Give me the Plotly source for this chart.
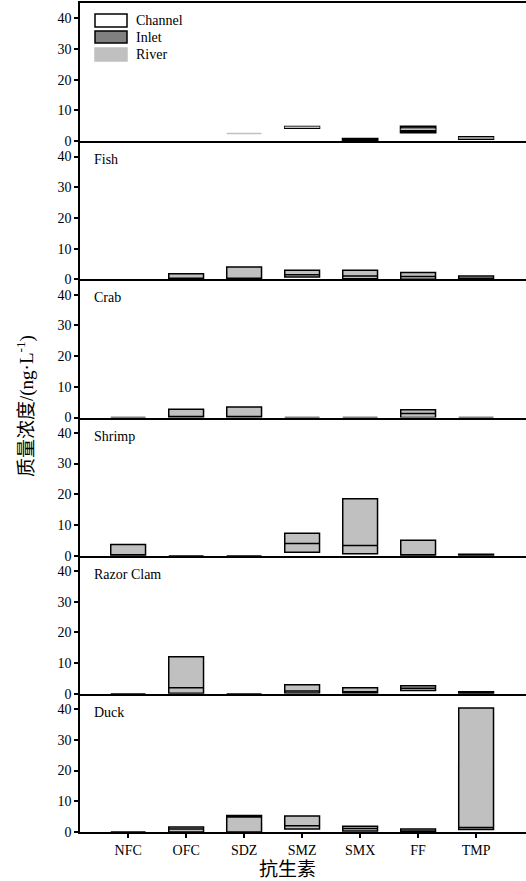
import plotly.graph_objects as go
from plotly.subplots import make_subplots

antibiotics = ["NFC", "OFC", "SDZ", "SMZ", "SMX", "FF", "TMP"]
panel_names = ["", "Fish", "Crab", "Shrimp", "Razor Clam", "Duck"]
y_ticks = [0, 10, 20, 30, 40]
legend_names = ["Channel", "Inlet", "River"]

# --- top panel (water sites): q1, median, q3 ---
channel_q1 = [None, None, None, 4.2, None, None, 0.6]
channel_med = [None, None, None, 4.5, None, None, 1.0]
channel_q3 = [None, None, None, 4.8, None, None, 1.4]

inlet_q1 = [None, None, None, None, 0.4, 2.8, None]
inlet_med = [None, None, None, None, 0.6, 3.4, None]
inlet_q3 = [None, None, None, None, 0.8, 4.8, None]

river_q1 = [None, None, 2.5, 4.5, None, 3.9, 1.0]
river_med = [None, None, 2.5, 4.5, None, 3.9, 1.0]
river_q3 = [None, None, 2.5, 4.5, None, 3.9, 1.0]

# --- organism panels: q1, median, q3 ---
fish_q1 = [None, 0.0, 0.0, 0.8, 0.2, 0.0, 0.0]
fish_med = [None, 0.0, 0.0, 1.5, 1.1, 0.9, 0.0]
fish_q3 = [None, 1.8, 4.0, 3.0, 3.0, 2.2, 1.1]

crab_q1 = [0.0, 0.0, 0.0, 0.0, 0.0, 0.0, 0.0]
crab_med = [0.0, 0.0, 0.0, 0.0, 0.0, 1.3, 0.0]
crab_q3 = [0.0, 2.7, 3.4, 0.0, 0.0, 2.5, 0.0]

shrimp_q1 = [0.0, 0.0, 0.0, 1.1, 0.65, 0.0, 0.1]
shrimp_med = [0.0, 0.0, 0.0, 4.0, 3.3, 0.0, 0.3]
shrimp_q3 = [3.6, 0.0, 0.0, 7.3, 18.5, 5.0, 0.5]

razor_q1 = [0.0, 0.2, 0.0, 0.3, 0.3, 1.1, 0.1]
razor_med = [0.0, 2.0, 0.0, 0.9, 0.65, 1.8, 0.4]
razor_q3 = [0.0, 12.1, 0.0, 3.0, 2.0, 2.6, 0.65]

duck_q1 = [0.0, 0.0, 0.0, 1.0, 0.3, 0.0, 0.8]
duck_med = [0.0, 1.0, 4.9, 2.0, 1.1, 0.0, 1.5]
duck_q3 = [0.0, 1.6, 5.4, 5.2, 1.85, 1.0, 40.4]

organism_data = [
    (fish_q1, fish_med, fish_q3),
    (crab_q1, crab_med, crab_q3),
    (shrimp_q1, shrimp_med, shrimp_q3),
    (razor_q1, razor_med, razor_q3),
    (duck_q1, duck_med, duck_q3),
]

SERIF = "Liberation Serif, Times New Roman, serif"
SERIF_CJK = "Liberation Serif, Noto Sans CJK SC, serif"
LIGHT = "#c0c0c0"
DARK = "#808080"

fig = make_subplots(rows=6, cols=1, shared_xaxes=True, vertical_spacing=0)


def add_boxes(q1, med, q3, row, fill, line_color, line_width):
    xs, a, m, b = [], [], [], []
    for cat, v1, vm, v3 in zip(antibiotics, q1, med, q3):
        if v1 is None:
            continue
        xs.append(cat)
        a.append(v1)
        m.append(vm)
        b.append(v3)
    fig.add_trace(
        go.Box(
            x=xs, q1=a, median=m, q3=b, lowerfence=a, upperfence=b,
            orientation="v", width=0.6, whiskerwidth=0,
            fillcolor=fill, line=dict(color=line_color, width=line_width),
            boxpoints=False, showlegend=False, hoverinfo="skip",
        ),
        row=row, col=1,
    )


add_boxes(channel_q1, channel_med, channel_q3, 1, "white", "black", 1.5)
add_boxes(inlet_q1, inlet_med, inlet_q3, 1, "#404040", "black", 2)
add_boxes(river_q1, river_med, river_q3, 1, LIGHT, LIGHT, 1.5)

for i, (q1, med, q3) in enumerate(organism_data):
    add_boxes(q1, med, q3, i + 2, LIGHT, "black", 1.5)

for r in range(1, 7):
    fig.update_yaxes(
        range=[0, 45], tickvals=y_ticks, ticks="outside", ticklen=4, tickwidth=1.5,
        tickcolor="black", showline=True, linecolor="black", linewidth=1.5,
        showgrid=False, zeroline=False,
        tickfont=dict(family=SERIF, size=14, color="black"),
        row=r, col=1,
    )
    fig.update_xaxes(
        type="category", categoryorder="array", categoryarray=antibiotics,
        range=[-0.83, 6.86], showline=True, linecolor="black", linewidth=2,
        showgrid=False, zeroline=False, mirror=(r == 1),
        ticks="outside" if r == 6 else "", ticklen=4, tickwidth=1.5, tickcolor="black",
        showticklabels=(r == 6),
        tickfont=dict(family=SERIF, size=14, color="black"),
        row=r, col=1,
    )

# panel labels
for i, name in enumerate(panel_names):
    if not name:
        continue
    r = i + 1
    xr = "x domain" if r == 1 else f"x{r} domain"
    yr = "y domain" if r == 1 else f"y{r} domain"
    fig.add_annotation(
        text=name, xref=xr, yref=yr, x=0.027, y=0.865,
        xanchor="left", yanchor="middle", showarrow=False,
        font=dict(family=SERIF, size=14, color="black"),
    )

# legend in the top panel
leg_fill = ["white", DARK, LIGHT]
leg_line = ["black", "black", LIGHT]
leg_y = [(14, 27), (31, 43), (48, 61)]
panel_top, panel_h, plot_left, plot_w = 3, 829 / 6, 80, 446
for name, fc, lc, (y0, y1) in zip(legend_names, leg_fill, leg_line, leg_y):
    fig.add_shape(
        type="rect", xref="x domain", yref="y domain",
        x0=(95 - plot_left) / plot_w, x1=(127 - plot_left) / plot_w,
        y0=1 - (y1 - panel_top) / panel_h, y1=1 - (y0 - panel_top) / panel_h,
        fillcolor=fc, line=dict(color=lc, width=1.5),
    )
    fig.add_annotation(
        text=name, xref="x domain", yref="y domain",
        x=(134 - plot_left) / plot_w, y=1 - ((y0 + y1) / 2 - panel_top) / panel_h,
        xanchor="left", yanchor="middle", showarrow=False,
        font=dict(family=SERIF, size=14, color="black"),
    )

# axis titles
fig.add_annotation(
    text="质量浓度/(ng·L<sup>-1</sup>)", xref="paper", yref="paper",
    x=(25 - 80) / 446, y=(832 - 406) / 829, textangle=-90,
    xanchor="center", yanchor="middle", showarrow=False,
    font=dict(family=SERIF_CJK, size=19, color="black"),
)
fig.add_annotation(
    text="抗生素", xref="paper", yref="paper",
    x=(287 - 80) / 446, y=(832 - 869) / 829,
    xanchor="center", yanchor="middle", showarrow=False,
    font=dict(family=SERIF_CJK, size=19, color="black"),
)

fig.update_layout(
    width=526, height=881,
    margin=dict(l=80, r=0, t=3, b=49),
    paper_bgcolor="white", plot_bgcolor="white",
    boxmode="overlay", showlegend=False,
    font=dict(family=SERIF, color="black"),
)

fig.write_html(
    "out.html",
    config={"displayModeBar": False},
    post_script="document.body.style.margin='0';",
)
